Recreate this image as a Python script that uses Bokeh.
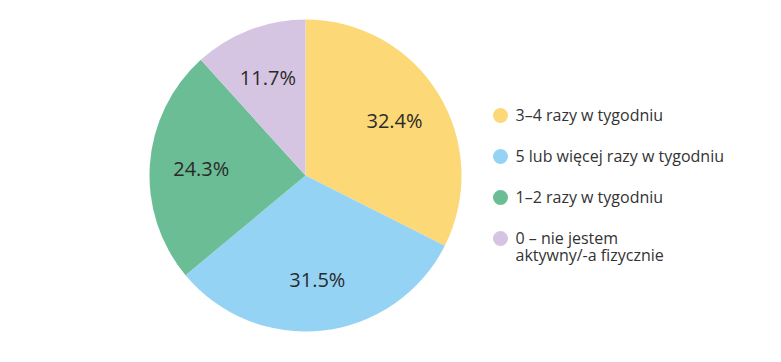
import math
from bokeh.plotting import figure
from bokeh.models import ColumnDataSource, Range1d
from bokeh.core.properties import value
from bokeh.embed import file_html
from bokeh.resources import INLINE

categories = ["3–4 razy w tygodniu", "5 lub więcej razy w tygodniu", "1–2 razy w tygodniu", "0 – nie jestem\naktywny/-a fizycznie"]
shares = [32.4, 31.5, 24.3, 11.7]
colors = ["#FDD877", "#95D3F4", "#6ABD95", "#D6C5E2"]

W, H = 765, 346
cx, cy, R = 305, 171, 156

total = sum(shares)
starts, ends, lx, ly, labels = [], [], [], [], []
acc = 0.0
for s in shares:
    a0 = math.pi / 2 - 2 * math.pi * acc / total
    a1 = math.pi / 2 - 2 * math.pi * (acc + s) / total
    starts.append(a0)
    ends.append(a1)
    mid = (a0 + a1) / 2
    lx.append(cx + 0.67 * R * math.cos(mid))
    ly.append(cy + 0.67 * R * math.sin(mid))
    labels.append(f"{s:.1f}%")
    acc += s

src = ColumnDataSource(dict(start=starts, end=ends, color=colors, lx=lx, ly=ly, label=labels))

p = figure(width=W, height=H, output_backend="svg", toolbar_location=None,
           x_range=Range1d(0, W), y_range=Range1d(0, H), min_border=0)
p.axis.visible = False
p.grid.visible = False
p.outline_line_color = None
p.background_fill_color = "white"

p.wedge(x=cx, y=cy, radius=R, start_angle="start", end_angle="end", direction="clock",
        fill_color="color", line_color=None, source=src)
p.text(x="lx", y="ly", text="label", source=src, text_align="center", text_baseline="middle",
       text_font=value("Open Sans"), text_font_size="20px", text_color="#2a2a2a")

# legend
leg_x = 500
leg_y0 = H - 115
gap = 41
lgx = [leg_x] * len(categories)
lgy = [leg_y0 - i * gap for i in range(len(categories))]
lsrc = ColumnDataSource(dict(x=lgx, y=lgy, tx=[leg_x + 15] * len(categories), color=colors,
                             text=categories))
p.scatter(x="x", y="y", size=15, fill_color="color", line_color=None, source=lsrc)
p.text(x="tx", y="y", text="text", source=lsrc, text_align="left", text_baseline="top",
       y_offset=-12, text_font=value("Open Sans"), text_font_size="16px", text_color="#333333",
       text_line_height=0.8)

open("out.html", "w").write(file_html(p, INLINE))
